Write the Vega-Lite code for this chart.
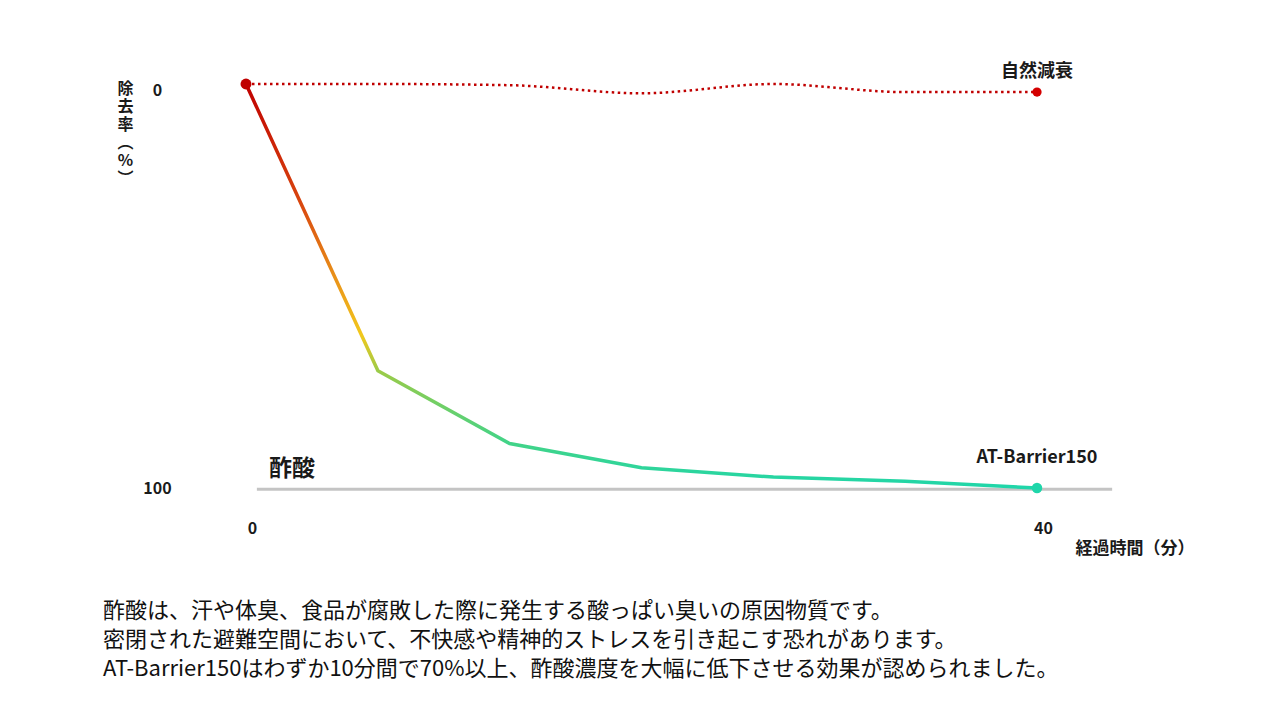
{
  "$schema": "https://vega.github.io/schema/vega-lite/v6.json",
  "autosize": {"type": "none"},
  "padding": {"left": 246, "top": 84, "right": 243, "bottom": 232},
  "width": 791,
  "height": 404,
  "background": "white",
  "config": {
    "view": {"stroke": null},
    "font": "Noto Sans CJK JP",
    "text": {"font": "Noto Sans CJK JP"}
  },
  "title": {
    "text": [
      "酢酸は、汗や体臭、食品が腐敗した際に発生する酸っぱい臭いの原因物質です。",
      "密閉された避難空間において、不快感や精神的ストレスを引き起こす恐れがあります。",
      "AT-Barrier150はわずか10分間で70%以上、酢酸濃度を大幅に低下させる効果が認められました。"
    ],
    "orient": "bottom",
    "anchor": "start",
    "frame": "group",
    "dx": -143,
    "offset": 45,
    "font": "Noto Sans CJK JP",
    "fontSize": 22,
    "fontWeight": "normal",
    "lineHeight": 29,
    "color": "#111111",
    "baseline": "top"
  },
  "datasets": {
    "at": [
      {"t": 0, "v": 0},
      {"t": 6.67, "v": 71},
      {"t": 13.33, "v": 89},
      {"t": 20, "v": 95},
      {"t": 26.67, "v": 97.3},
      {"t": 33.33, "v": 98.3},
      {"t": 40, "v": 100}
    ],
    "natural": [
      {"t": 0, "v": 0},
      {"t": 6.67, "v": 0},
      {"t": 13.33, "v": 0.3},
      {"t": 20, "v": 2.3},
      {"t": 26.67, "v": 0},
      {"t": 33.33, "v": 2},
      {"t": 40, "v": 2}
    ],
    "baseline": [{"t": 0.55, "t2": 43.8, "v": 100.3, "label": "酢酸"}]
  },
  "encoding": {
    "x": {
      "field": "t",
      "type": "quantitative",
      "scale": {"domain": [0, 40], "nice": false, "zero": false},
      "axis": {
        "values": [0, 40],
        "grid": false,
        "domain": false,
        "ticks": false,
        "tickSize": 0,
        "labelFlush": false,
        "labelPadding": 40,
        "labelBaseline": "middle",
        "labelOffset": 6,
        "labelFontSize": 16,
        "labelFontWeight": "bold",
        "labelColor": "#1a1a1a",
        "labelFont": "Noto Sans CJK JP",
        "title": "経過時間（分）",
        "titleFont": "Noto Sans CJK JP",
        "titleFontSize": 17,
        "titleFontWeight": "bold",
        "titleColor": "#1a1a1a",
        "titleX": 829,
        "titleY": 60,
        "titleAlign": "left",
        "titleBaseline": "middle",
        "titleAnchor": "start"
      }
    },
    "y": {
      "field": "v",
      "type": "quantitative",
      "scale": {"domain": [0, 100], "reverse": true, "nice": false, "zero": false},
      "axis": {
        "values": [0, 100],
        "grid": false,
        "domain": false,
        "ticks": false,
        "tickSize": 0,
        "labelPadding": 89,
        "labelAlign": "center",
        "labelBaseline": "middle",
        "labelOffset": {"condition": {"test": "datum.value == 0", "value": 6}, "value": 0},
        "labelFontSize": 16,
        "labelFontWeight": "bold",
        "labelColor": "#1a1a1a",
        "labelFont": "Noto Sans CJK JP",
        "title": ["除", "去", "率", "︵", "%", "︶"],
        "titleFont": "Noto Sans CJK JP",
        "titleFontSize": 16,
        "titleFontWeight": "bold",
        "titleColor": "#1a1a1a",
        "titleAngle": 0,
        "titleLineHeight": 18,
        "titleX": -121,
        "titleY": -4,
        "titleAlign": "center",
        "titleBaseline": "top"
      }
    }
  },
  "layer": [
    {
      "data": {"name": "baseline"},
      "mark": {"type": "rule", "color": "#c4c4c4", "strokeWidth": 3},
      "encoding": {"x2": {"field": "t2"}}
    },
    {
      "data": {"name": "baseline"},
      "mark": {"type": "text", "align": "left", "baseline": "middle", "dx": 12, "dy": -20, "fontSize": 23, "fontWeight": "bold", "color": "#1a1a1a"},
      "encoding": {"text": {"field": "label"}}
    },
    {
      "data": {"name": "natural"},
      "mark": {"type": "line", "interpolate": "monotone", "color": "#c00000", "strokeWidth": 2.5, "strokeDash": [2.5, 3.5]}
    },
    {
      "data": {"name": "at"},
      "mark": {
        "type": "line",
        "strokeWidth": 3.5,
        "color": {
          "gradient": "linear",
          "x1": 0, "y1": 0, "x2": 0, "y2": 1,
          "stops": [
            {"offset": 0, "color": "#c00000"},
            {"offset": 0.3, "color": "#d9480f"},
            {"offset": 0.5, "color": "#eb9a1a"},
            {"offset": 0.62, "color": "#f2c81c"},
            {"offset": 0.71, "color": "#9ccb48"},
            {"offset": 0.88, "color": "#45d385"},
            {"offset": 1, "color": "#1fd6aa"}
          ]
        }
      }
    },
    {
      "data": {"values": [{"t": 0, "v": 0}]},
      "mark": {"type": "point", "filled": true, "opacity": 1, "size": 120, "color": "#c00000"}
    },
    {
      "data": {"values": [{"t": 40, "v": 2, "label": "自然減衰"}]},
      "mark": {"type": "point", "filled": true, "opacity": 1, "size": 85, "color": "#d40000"}
    },
    {
      "data": {"values": [{"t": 40, "v": 2, "label": "自然減衰"}]},
      "mark": {"type": "text", "align": "center", "baseline": "middle", "dy": -20, "fontSize": 18, "fontWeight": "bold", "color": "#1a1a1a"},
      "encoding": {"text": {"field": "label"}}
    },
    {
      "data": {"values": [{"t": 40, "v": 100, "label": "AT-Barrier150"}]},
      "mark": {"type": "point", "filled": true, "opacity": 1, "size": 110, "color": "#1fd6aa"}
    },
    {
      "data": {"values": [{"t": 40, "v": 100, "label": "AT-Barrier150"}]},
      "mark": {"type": "text", "align": "center", "baseline": "middle", "dy": -30, "fontSize": 18, "fontWeight": "bold", "color": "#1a1a1a"},
      "encoding": {"text": {"field": "label"}}
    }
  ]
}
